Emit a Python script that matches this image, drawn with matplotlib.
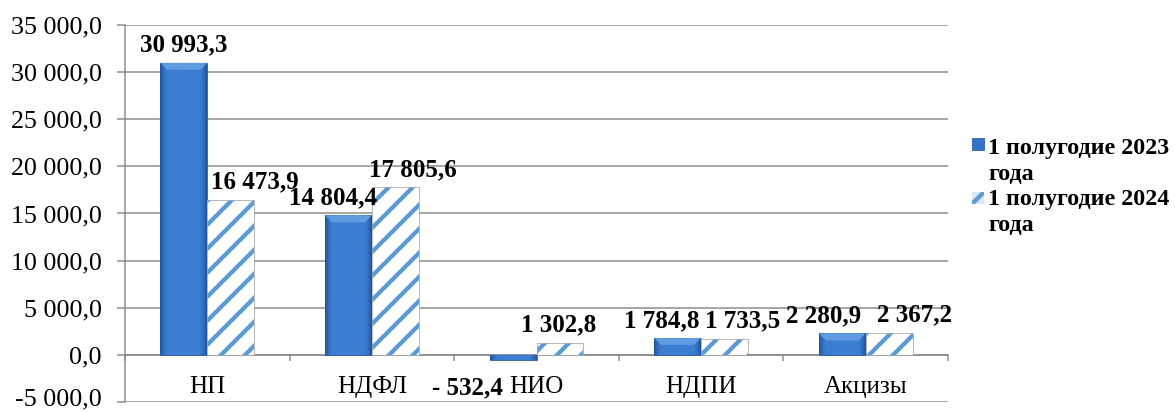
import matplotlib
matplotlib.use("Agg")
import matplotlib.pyplot as plt
import numpy as np
from matplotlib.patches import Rectangle, Polygon
from matplotlib.colors import LinearSegmentedColormap
from matplotlib.transforms import ScaledTranslation

# data
categories = ["НП", "НДФЛ", "НИО", "НДПИ", "Акцизы"]
values_2023 = [30993.3, 14804.4, -532.4, 1784.8, 2280.9]
values_2024 = [16473.9, 17805.6, 1302.8, 1733.5, 2367.2]
labels_2023 = ["30 993,3", "14 804,4", "- 532,4", "1 784,8", "2 280,9"]
labels_2024 = ["16 473,9", "17 805,6", "1 302,8", "1 733,5", "2 367,2"]
series_names = ["1 полугодие 2023\nгода", "1 полугодие 2024\nгода"]
y_ticks = np.arange(-5000, 35001, 5000)

plt.rcParams["font.family"] = ["Liberation Serif", "DejaVu Serif"]
plt.rcParams["hatch.linewidth"] = 4.3

DPI = 72
W, H = 1175, 412
fig = plt.figure(figsize=(W / DPI, H / DPI), dpi=DPI)
L, R, T, B = 125, 948, 25, 402
ax = fig.add_axes([L / W, 1 - B / H, (R - L) / W, (B - T) / H])

grid_col = "#8c8c8c"
x = np.arange(len(categories))
w = 0.2855
ax.set_xlim(-0.5, len(categories) - 0.5)
ax.set_ylim(-5000, 35000)

# px -> data conversions for the bevel
px_x = (len(categories)) / (R - L)
px_y = 40000 / (B - T)

# dark blue bars: gradient body + light bevel on top
bars1 = ax.bar(x - w / 2, values_2023, w, color="#3474c6", edgecolor="#2a5a9e", linewidth=0.8, zorder=3)
prof = np.linspace(0, 1, 60)
grad = np.array([np.clip(1.6 * np.sin(np.pi * prof) ** 0.6, 0, 1)])
cmap = LinearSegmentedColormap.from_list("b", ["#224f94", "#3b7ed2"])
for b in bars1:
    x0, y0, bw, bh = b.get_x(), b.get_y(), b.get_width(), b.get_height()
    im = ax.imshow(grad, cmap=cmap, aspect="auto", zorder=3.5, interpolation="bilinear",
                   extent=[x0, x0 + bw, y0, y0 + bh])
    im.set_clip_path(b)
    if bh > 0:
        top = y0 + bh
        hh = min(7 * px_y, 0.4 * bh)
        dd = 7 * px_x
        ax.add_patch(Polygon([(x0, top), (x0 + bw, top), (x0 + bw - dd, top - hh), (x0 + dd, top - hh)],
                             closed=True, facecolor="#66a2e6", edgecolor="none", alpha=0.85, zorder=3.7))

# hatched bars
ax.bar(x + w / 2, values_2024, w, color="white", edgecolor="#5e9ad6", hatch="/", linewidth=0, zorder=3)
ax.bar(x + w / 2, values_2024, w, color="none", edgecolor="#a8a8a8", linewidth=0.8, zorder=4)

# value labels
off_2023 = [0, -15, 0, -16, -19]
off_2024 = [24, 17, -1, 18, 25]
fs = 25
for i in range(len(categories)):
    if values_2023[i] >= 0:
        ax.annotate(labels_2023[i], (x[i] - w / 2, values_2023[i]), xytext=(off_2023[i], 6),
                    textcoords="offset points", ha="center", va="bottom",
                    fontsize=fs, fontweight="bold", zorder=6)
    else:
        ax.annotate(labels_2023[i], (x[i] - w / 2, 0), xytext=(-46, -33),
                    textcoords="offset points", ha="center", va="center",
                    fontsize=fs, fontweight="bold", zorder=6)
    ax.annotate(labels_2024[i], (x[i] + w / 2, values_2024[i]), xytext=(off_2024[i], 6),
                textcoords="offset points", ha="center", va="bottom",
                fontsize=fs, fontweight="bold", zorder=6)

ax.set_yticks(y_ticks)
ax.set_yticklabels([f"{v:,.1f}".replace(",", " ").replace(".", ",") for v in y_ticks])
ax.yaxis.grid(True, color=grid_col, linewidth=1.5, zorder=0)
ax.set_axisbelow(True)

for s in ["top", "right"]:
    ax.spines[s].set_visible(False)
ax.spines["left"].set_color(grid_col)
ax.spines["left"].set_linewidth(1.5)
ax.spines["bottom"].set_position(("data", 0))
ax.spines["bottom"].set_color(grid_col)
ax.spines["bottom"].set_linewidth(1.5)

ax.set_xticks(x)
ax.set_xticklabels(categories)
ax.set_xticks(np.arange(len(categories) + 1) - 0.5, minor=True)
ax.tick_params(axis="x", which="major", length=0, pad=21, labelsize=25)
ax.tick_params(axis="x", which="minor", length=6, width=1.5, color=grid_col)
ax.tick_params(axis="y", length=8, width=1.5, color=grid_col, labelsize=26, pad=15)

# keep the lowest tick label inside the canvas
bottom_lbl = ax.get_yticklabels()[0]
bottom_lbl.set_transform(bottom_lbl.get_transform() + ScaledTranslation(0, 5 / DPI, fig.dpi_scale_trans))

# legend drawn by hand (Excel style: marker next to first line, wrapped text)
leg_baselines = [[154, 180], [205, 231]]
marker_tops = [138, 192]
for k, name in enumerate(series_names):
    for line, yb in zip(name.split("\n"), leg_baselines[k]):
        fig.text(988 / W, 1 - yb / H, line, fontsize=24, fontweight="bold", va="baseline", ha="left")
    if k == 0:
        patch = Rectangle((972 / W, 1 - (marker_tops[k] + 12) / H), 12 / W, 12 / H,
                          transform=fig.transFigure, facecolor="#3474c6", edgecolor="#2a5a9e", linewidth=0.8)
    else:
        patch = Rectangle((972 / W, 1 - (marker_tops[k] + 12) / H), 12 / W, 12 / H,
                          transform=fig.transFigure, facecolor="#dce8f5", edgecolor="#5e9ad6",
                          hatch="/", linewidth=0)
    fig.add_artist(patch)

fig.savefig("out.png", dpi=DPI)
